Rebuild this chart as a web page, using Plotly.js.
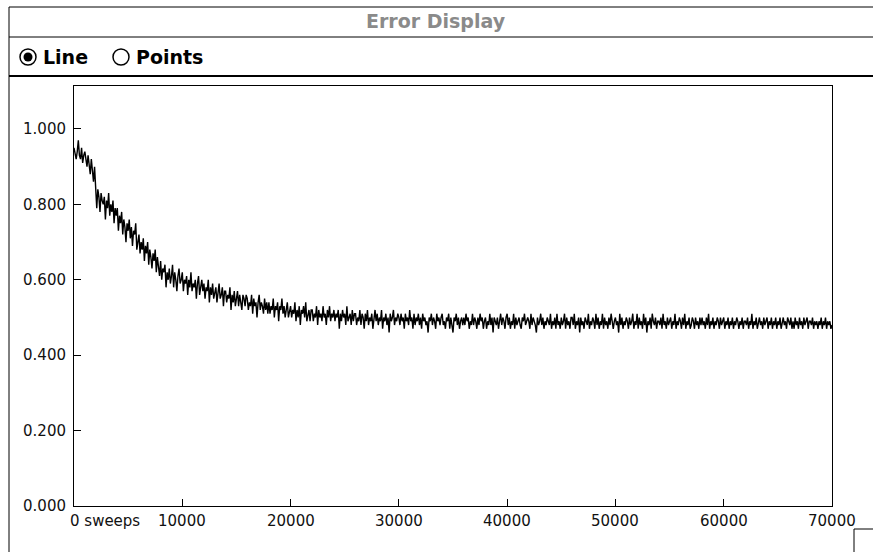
<!DOCTYPE html>
<html>
<head>
<meta charset="utf-8">
<script src="https://cdn.plot.ly/plotly-3.0.1.min.js"></script>
<style>
html,body{margin:0;padding:0;background:#fff;}
#chart{width:873px;height:552px;}
</style>
</head>
<body>
<div id="chart"></div>
<script>
// ---- data ----
const sweepStep = 100; // sweeps between recorded error samples
const errorValues = [
0.95,0.93,0.92,0.94,0.97,0.93,0.92,0.95,0.91,0.93,0.94,0.92,0.90,0.93,0.91,0.88,0.92,0.89,0.86,0.90,
0.85,0.79,0.84,0.82,0.78,0.83,0.81,0.80,0.82,0.76,0.81,0.79,0.83,0.77,0.80,0.78,0.81,0.75,0.79,0.77,
0.79,0.73,0.77,0.75,0.78,0.72,0.76,0.74,0.70,0.75,0.73,0.76,0.71,0.74,0.69,0.73,0.72,0.75,0.68,0.71,
0.72,0.67,0.70,0.68,0.71,0.65,0.69,0.67,0.70,0.64,0.68,0.66,0.63,0.67,0.65,0.68,0.62,0.66,0.64,0.61,
0.65,0.60,0.63,0.62,0.64,0.58,0.62,0.60,0.63,0.59,0.61,0.64,0.58,0.62,0.60,0.57,0.61,0.63,0.59,0.60,
0.62,0.57,0.60,0.59,0.61,0.56,0.60,0.58,0.62,0.57,0.59,0.58,0.60,0.55,0.59,0.61,0.56,0.58,0.60,0.57,
0.59,0.55,0.58,0.57,0.60,0.54,0.58,0.56,0.59,0.55,0.57,0.58,0.54,0.57,0.59,0.55,0.56,0.58,0.53,0.57,
0.57,0.54,0.56,0.55,0.58,0.52,0.56,0.54,0.57,0.53,0.55,0.57,0.53,0.56,0.54,0.52,0.56,0.55,0.53,0.56,
0.55,0.52,0.54,0.53,0.56,0.51,0.55,0.53,0.54,0.50,0.54,0.56,0.52,0.54,0.53,0.51,0.55,0.52,0.54,0.51,
0.54,0.51,0.53,0.52,0.55,0.50,0.53,0.52,0.54,0.49,0.53,0.52,0.55,0.51,0.53,0.50,0.52,0.54,0.50,0.52,
0.53,0.50,0.52,0.51,0.54,0.49,0.52,0.50,0.53,0.48,0.52,0.51,0.53,0.50,0.54,0.49,0.51,0.52,0.49,0.52,
0.52,0.49,0.51,0.50,0.53,0.48,0.52,0.50,0.51,0.49,0.53,0.50,0.51,0.48,0.52,0.50,0.53,0.49,0.51,0.50,
0.52,0.49,0.51,0.50,0.52,0.47,0.51,0.49,0.52,0.50,0.51,0.48,0.53,0.49,0.50,0.51,0.48,0.52,0.49,0.51,
0.51,0.48,0.50,0.49,0.52,0.48,0.51,0.50,0.47,0.51,0.49,0.52,0.48,0.50,0.49,0.51,0.47,0.50,0.52,0.49,
0.51,0.48,0.50,0.49,0.52,0.47,0.50,0.49,0.51,0.48,0.50,0.46,0.51,0.49,0.50,0.52,0.48,0.50,0.49,0.51,
0.50,0.48,0.51,0.49,0.50,0.47,0.51,0.49,0.50,0.48,0.52,0.49,0.50,0.47,0.51,0.48,0.50,0.49,0.51,0.48,
0.50,0.47,0.51,0.49,0.50,0.48,0.49,0.46,0.50,0.49,0.51,0.48,0.50,0.49,0.47,0.51,0.49,0.50,0.48,0.50,
0.51,0.48,0.49,0.47,0.50,0.49,0.51,0.47,0.50,0.48,0.46,0.50,0.49,0.51,0.48,0.50,0.47,0.49,0.50,0.48,
0.50,0.48,0.51,0.49,0.50,0.47,0.49,0.48,0.51,0.48,0.50,0.49,0.47,0.50,0.48,0.51,0.49,0.50,0.47,0.49,
0.50,0.47,0.49,0.48,0.51,0.48,0.50,0.46,0.50,0.49,0.48,0.50,0.47,0.49,0.51,0.48,0.50,0.49,0.47,0.50,
0.51,0.48,0.50,0.47,0.49,0.48,0.51,0.47,0.50,0.48,0.49,0.50,0.48,0.47,0.50,0.49,0.51,0.48,0.49,0.50,
0.49,0.47,0.51,0.48,0.50,0.49,0.48,0.46,0.50,0.48,0.49,0.51,0.48,0.50,0.47,0.49,0.48,0.50,0.49,0.48,
0.51,0.47,0.49,0.48,0.50,0.47,0.51,0.48,0.49,0.47,0.50,0.48,0.49,0.51,0.47,0.50,0.48,0.49,0.47,0.50,
0.50,0.48,0.51,0.47,0.49,0.48,0.50,0.46,0.50,0.48,0.49,0.47,0.50,0.49,0.48,0.51,0.47,0.49,0.48,0.50,
0.49,0.47,0.51,0.48,0.50,0.47,0.49,0.48,0.51,0.47,0.50,0.48,0.49,0.47,0.50,0.48,0.51,0.49,0.47,0.49,
0.50,0.48,0.49,0.46,0.51,0.48,0.50,0.47,0.49,0.48,0.50,0.49,0.47,0.50,0.48,0.49,0.51,0.47,0.49,0.48,
0.51,0.47,0.50,0.48,0.49,0.47,0.51,0.48,0.50,0.46,0.49,0.48,0.50,0.47,0.51,0.49,0.48,0.50,0.47,0.49,
0.49,0.48,0.50,0.47,0.51,0.48,0.49,0.47,0.50,0.48,0.49,0.50,0.47,0.49,0.48,0.51,0.47,0.49,0.48,0.50,
0.49,0.47,0.50,0.48,0.51,0.47,0.49,0.48,0.50,0.47,0.48,0.50,0.49,0.47,0.50,0.48,0.49,0.47,0.50,0.48,
0.50,0.48,0.49,0.47,0.50,0.48,0.51,0.47,0.49,0.48,0.50,0.47,0.49,0.48,0.50,0.49,0.47,0.50,0.48,0.49,
0.50,0.47,0.49,0.48,0.50,0.47,0.49,0.48,0.50,0.47,0.49,0.48,0.50,0.49,0.47,0.49,0.48,0.50,0.47,0.49,
0.49,0.48,0.50,0.47,0.49,0.48,0.51,0.47,0.49,0.48,0.50,0.47,0.49,0.50,0.48,0.49,0.47,0.50,0.48,0.49,
0.50,0.47,0.49,0.48,0.50,0.47,0.49,0.48,0.50,0.47,0.49,0.48,0.50,0.47,0.49,0.50,0.48,0.49,0.47,0.50,
0.49,0.48,0.50,0.47,0.49,0.47,0.50,0.48,0.49,0.47,0.50,0.48,0.49,0.47,0.50,0.48,0.49,0.50,0.47,0.49,
0.49,0.48,0.50,0.47,0.49,0.48,0.49,0.47,0.49,0.48,0.50,0.47,0.49,0.48,0.50,0.47,0.49,0.48,0.49,0.47,
0.48
];
const xTickVals = [0,10000,20000,30000,40000,50000,60000,70000];
const xTickText = ["0 sweeps","10000","20000","30000","40000","50000","60000","70000"];
const yTickVals = [0,0.2,0.4,0.6,0.8,1.0];
const yTickText = ["0.000","0.200","0.400","0.600","0.800","1.000"];
const windowTitle = "Error Display";
const radioLabels = ["Line","Points"];

// ---- geometry ----
const W = 873, H = 552;
const M = {l:74, r:41, t:86, b:46};
const pw = W - M.l - M.r, ph = H - M.t - M.b;
const px = x => (x - M.l) / pw;
const py = y => (H - M.b - y) / ph;

const sweeps = errorValues.map((_, i) => i * sweepStep);

const trace = {
  x: sweeps, y: errorValues, type: 'scatter', mode: 'lines',
  line: {color: '#000', width: 1.4}, hoverinfo: 'skip'
};

const frame = {color:'#000', width:1};
const shapes = [
  // window frame
  {type:'line', xref:'paper', yref:'paper', x0:px(9), x1:px(873), y0:py(7), y1:py(7), line:frame},
  {type:'line', xref:'paper', yref:'paper', x0:px(9), x1:px(9), y0:py(7), y1:py(552), line:frame},
  {type:'line', xref:'paper', yref:'paper', x0:px(9), x1:px(873), y0:py(37), y1:py(37), line:frame},
  {type:'line', xref:'paper', yref:'paper', x0:px(9), x1:px(873), y0:py(76), y1:py(76), line:{color:'#000', width:2}},
  // grow box corner
  {type:'line', xref:'paper', yref:'paper', x0:px(854), x1:px(873), y0:py(529), y1:py(529), line:frame},
  {type:'line', xref:'paper', yref:'paper', x0:px(854), x1:px(854), y0:py(529), y1:py(552), line:frame},
  // radio buttons
  {type:'circle', xref:'paper', yref:'paper', x0:px(20), x1:px(36), y0:py(49), y1:py(65), line:{color:'#000', width:1.5}, fillcolor:'#fff'},
  {type:'circle', xref:'paper', yref:'paper', x0:px(23.5), x1:px(32.5), y0:py(52.5), y1:py(61.5), line:{color:'#000', width:0}, fillcolor:'#000'},
  {type:'circle', xref:'paper', yref:'paper', x0:px(113), x1:px(129), y0:py(49), y1:py(65), line:{color:'#000', width:1.5}, fillcolor:'#fff'}
];

const tickFont = {family:'DejaVu Sans, sans-serif', size:15, color:'#111'};
const annotations = [
  {xref:'paper', yref:'paper', x:px(436), y:py(21), text:windowTitle, showarrow:false,
   xanchor:'center', yanchor:'middle', font:{family:'DejaVu Sans, sans-serif', size:19, color:'#8a8a8a', weight:'bold'}},
  {xref:'paper', yref:'paper', x:px(41), y:py(57), text:'<b>'+radioLabels[0]+'</b>', showarrow:false,
   xanchor:'left', yanchor:'middle', font:{family:'DejaVu Sans, sans-serif', size:19, color:'#000'}},
  {xref:'paper', yref:'paper', x:px(134), y:py(57), text:'<b>'+radioLabels[1]+'</b>', showarrow:false,
   xanchor:'left', yanchor:'middle', font:{family:'DejaVu Sans, sans-serif', size:19, color:'#000'}}
];
xTickVals.forEach((v, i) => {
  annotations.push({
    xref:'x', yref:'paper', x:v, y:py(510), text:xTickText[i], showarrow:false,
    xanchor: i === 0 ? 'left' : 'center', xshift: i === 0 ? -6 : 0, yanchor:'top',
    font:tickFont
  });
});

const layout = {
  width:W, height:H, margin:M, paper_bgcolor:'#fff', plot_bgcolor:'#fff',
  showlegend:false,
  xaxis:{range:[0,70000], tickvals:xTickVals, showticklabels:false, ticks:'inside', ticklen:7,
    tickcolor:'#000', tickwidth:1, showline:true, mirror:true, linecolor:'#000', linewidth:1,
    showgrid:false, zeroline:false, fixedrange:true},
  yaxis:{range:[0,1.114], tickvals:yTickVals, ticktext:yTickText, ticks:'inside', ticklen:7,
    tickcolor:'#000', tickwidth:1, showline:true, mirror:true, linecolor:'#000', linewidth:1,
    showgrid:false, zeroline:false, tickfont:tickFont, fixedrange:true, ticklabelstandoff:4},
  shapes:shapes, annotations:annotations
};

Plotly.newPlot('chart', [trace], layout, {displayModeBar:false, staticPlot:true});
</script>
</body>
</html>
